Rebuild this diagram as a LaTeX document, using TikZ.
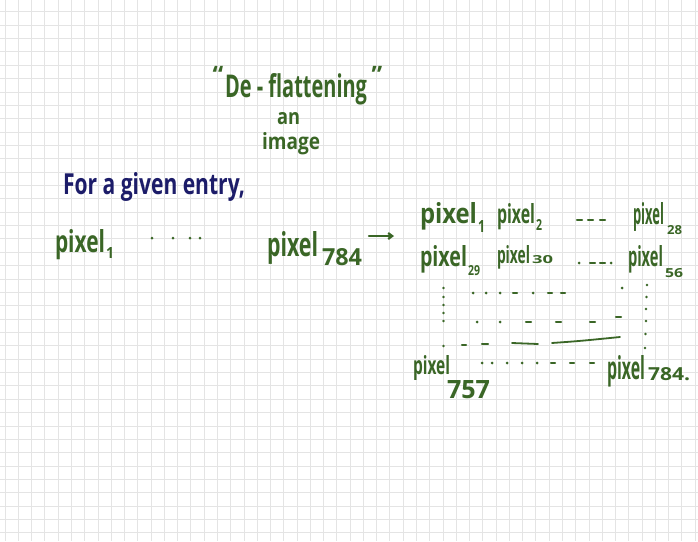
\documentclass[tikz,border=0pt]{standalone}
\usepackage{fontspec}
\setmainfont{Open Sans}
\usetikzlibrary{arrows.meta}
\definecolor{ink}{RGB}{58,102,38}
\definecolor{navy}{RGB}{28,28,105}
\definecolor{gridc}{RGB}{228,228,228}
\newcommand\hwfit[3]{\resizebox{#1pt}{#2pt}{\bfseries #3}}
\begin{document}
\begin{tikzpicture}[x=1pt,y=-1pt,
  txt/.style={inner sep=0pt, outer sep=0pt, anchor=base west, text=ink},
  gline/.style={gridc, line width=0.7pt},
  dotmark/.style={fill=ink},
  dashmark/.style={draw=ink, line width=2.1pt, line cap=round},
  arrowline/.style={draw=ink, line width=2.2pt, line cap=round, -{Straight Barb[length=4pt,width=6pt]}}]
\useasboundingbox (0,0) rectangle (698,541);
\fill[white] (0,0) rectangle (698,541);
% grid paper
\foreach \k in {0,...,52} \draw[gline] ({5+13.27*\k},0) -- ({5+13.27*\k},541);
\foreach \k in {0,...,39} \draw[gline] (0,{11.7+13.36*\k}) -- (698,{11.7+13.36*\k});
% title
\node[txt, anchor=base] (lq) at (218,83) {\fontsize{24}{24}\selectfont\bfseries “};
\node[txt] (title) at (225,97) {\hwfit{142}{24}{De - flattening}};
\node[txt, anchor=base] (rq) at (377,83) {\fontsize{24}{24}\selectfont\bfseries ”};
\node[txt] (an) at (277,124) {\hwfit{23}{12}{an}};
\node[txt] (image) at (262,149) {\hwfit{58}{17}{image}};
% heading
\node[txt, text=navy] (entry) at (63,194) {\hwfit{182}{22}{For a given entry,}};
% flat vector
\node[txt] (p1) at (55,252) {\hwfit{50}{23}{pixel}};
\node[txt] (p1s) at (106,258) {\hwfit{8}{11}{1}};
\foreach \x in {152,173,190,200} \fill[dotmark] (\x,238) circle (1.5);
\node[txt] (p784) at (267,256) {\hwfit{51}{25}{pixel}};
\node[txt] (p784s) at (322,265) {\hwfit{40}{17}{784}};
\coordinate (aS) at (369,236);
\coordinate (aE) at (394,236);
\draw[arrowline] (aS) -- (aE);
% matrix row 1
\node[txt] (m1) at (420,223) {\hwfit{57}{21}{pixel}};
\node[txt] (m1s) at (478,232) {\hwfit{7}{12}{1}};
\node[txt] (m2) at (497,223) {\hwfit{38}{20}{pixel}};
\node[txt] (m2s) at (536,230) {\hwfit{6}{11}{2}};
\foreach \x in {577,588,600} \draw[dashmark] (\x,220) -- (\x+5,220);
\node[txt] (m28) at (633,224) {\hwfit{31}{22}{pixel}};
\node[txt] (m28s) at (667,234) {\hwfit{15}{9}{28}};
% matrix row 2
\node[txt] (m29) at (420,266) {\hwfit{47}{21}{pixel}};
\node[txt] (m29s) at (468,275) {\hwfit{12}{10}{29}};
\node[txt] (m30) at (497,263) {\hwfit{33}{18}{pixel}};
\node[txt] (m30s) at (532,263) {\hwfit{21}{8}{30}};
\fill[dotmark] (579,263) circle (1.5);
\foreach \x in {590,600} \draw[dashmark] (\x,263) -- (\x+5,263);
\fill[dotmark] (611,263) circle (1.5);
\node[txt] (m56) at (628,266) {\hwfit{35}{21}{pixel}};
\node[txt] (m56s) at (665,277) {\hwfit{18}{9}{56}};
% dotted interior
\foreach \y in {288,297,305,313,321,346} \fill[dotmark] (443.5,\y) circle (1.4);
\foreach \y/\x in {285/647,297/646.5,309/646,321/646,334/645.5,348/645} \fill[dotmark] (\x,\y) circle (1.4);
\foreach \x in {473,486,500,533} \fill[dotmark] (\x,293) circle (1.5);
\foreach \x in {513,548,561} \draw[dashmark] (\x,293) -- (\x+4,293);
\fill[dotmark] (622,288) circle (1.5);
\foreach \x in {477,500} \fill[dotmark] (\x,322) circle (1.5);
\foreach \x in {526,556,590} \draw[dashmark] (\x,322) -- (\x+5,322);
\draw[dashmark] (616,317) -- (621,317);
\draw[dashmark] (462,345) -- (466,345);
\draw[dashmark] (482,344) -- (488,344);
\draw[ink, line width=1.8pt, line cap=round] (512,343) -- (538,344);
\draw[ink, line width=1.8pt, line cap=round] (552,343) .. controls (580,341) .. (620,337);
% bottom row
\node[txt] (m757) at (413,374) {\hwfit{37}{19}{pixel}};
\node[txt] (m757s) at (447,398) {\hwfit{43}{18}{757}};
\foreach \x in {482,492,507,522,537} \fill[dotmark] (\x,363) circle (1.5);
\foreach \x in {551,570,590} \draw[dashmark] (\x,363) -- (\x+4,363);
\node[txt] (mlast) at (607,379) {\hwfit{38}{24}{pixel}};
\node[txt] (mlasts) at (648,380) {\hwfit{42}{13}{784.}};
\end{tikzpicture}
\end{document}
